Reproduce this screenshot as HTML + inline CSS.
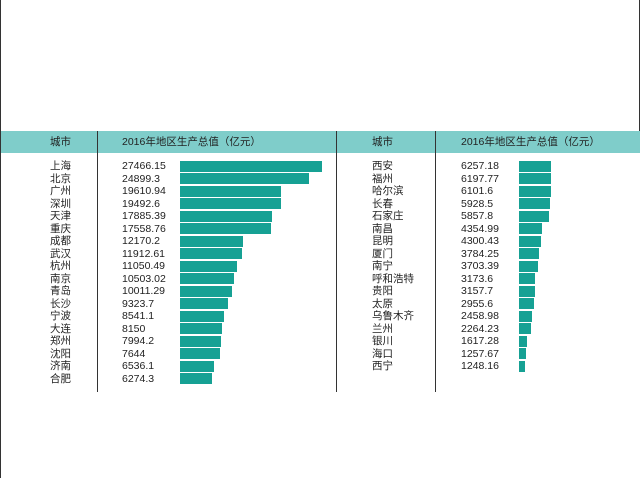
<!DOCTYPE html>
<html><head><meta charset="utf-8"><style>
body{margin:0;width:640px;height:478px;background:#fff;position:relative;overflow:hidden;font-family:"Liberation Sans","Noto Sans CJK SC",sans-serif;}
.hdr{position:absolute;top:131px;height:22px;background:#7fcdca;font-size:10px;color:#222;line-height:22px;}
.vl{position:absolute;width:1px;background:#333;}
.t{position:absolute;font-size:10.5px;color:#222;line-height:12px;white-space:nowrap;}
.bar{position:absolute;background:#16a194;height:11px;}
</style></head><body>
<div class="vl" style="left:0;top:0;height:478px;"></div>
<div class="vl" style="left:639px;top:0;height:131px;"></div>
<div class="hdr" style="left:1px;width:335px;"></div>
<div class="hdr" style="left:337px;width:303px;"></div>
<div class="t" style="left:50px;top:136px;">城市</div>
<div class="t" style="left:122px;top:136px;">2016年地区生产总值（亿元）</div>
<div class="t" style="left:372px;top:136px;">城市</div>
<div class="t" style="left:461px;top:136px;">2016年地区生产总值（亿元）</div>
<div class="vl" style="left:97px;top:131px;height:261px;"></div>
<div class="vl" style="left:336px;top:131px;height:261px;"></div>
<div class="vl" style="left:435px;top:131px;height:261px;"></div>
<div id="rows"></div>
<script>
const leftCities=["上海","北京","广州","深圳","天津","重庆","成都","武汉","杭州","南京","青岛","长沙","宁波","大连","郑州","沈阳","济南","合肥"];
const leftValues=[27466.15,24899.3,19610.94,19492.6,17885.39,17558.76,12170.2,11912.61,11050.49,10503.02,10011.29,9323.7,8541.1,8150,7994.2,7644,6536.1,6274.3];
const leftLabels=["27466.15","24899.3","19610.94","19492.6","17885.39","17558.76","12170.2","11912.61","11050.49","10503.02","10011.29","9323.7","8541.1","8150","7994.2","7644","6536.1","6274.3"];
const rightCities=["西安","福州","哈尔滨","长春","石家庄","南昌","昆明","厦门","南宁","呼和浩特","贵阳","太原","乌鲁木齐","兰州","银川","海口","西宁"];
const rightValues=[6257.18,6197.77,6101.6,5928.5,5857.8,4354.99,4300.43,3784.25,3703.39,3173.6,3157.7,2955.6,2458.98,2264.23,1617.28,1257.67,1248.16];
const rightLabels=["6257.18","6197.77","6101.6","5928.5","5857.8","4354.99","4300.43","3784.25","3703.39","3173.6","3157.7","2955.6","2458.98","2264.23","1617.28","1257.67","1248.16"];
const scale=v=>v*142/27466.15;
const rowY=i=>160+i*12.5;
const root=document.getElementById('rows');
function table(cities,vals,labels,cx,vx,bx,side){
  cities.forEach((c,i)=>{
    const y=rowY(i);
    const a=document.createElement('div');a.className='t';a.style.left=cx+'px';a.style.top=y+'px';a.textContent=c;
    
    
    root.appendChild(a);
    const b=document.createElement('div');b.className='t';b.style.left=vx+'px';b.style.top=y+'px';b.textContent=labels[i];
    
    
    root.appendChild(b);
    const r=document.createElement('div');r.className='bar';r.style.left=bx+'px';r.style.top=(y+0.5)+'px';r.style.width=scale(vals[i])+'px';
    
    
    root.appendChild(r);
  });
}
table(leftCities,leftValues,leftLabels,50,122,180,'left');
table(rightCities,rightValues,rightLabels,372,461,519,'right');
</script>
</body></html>
